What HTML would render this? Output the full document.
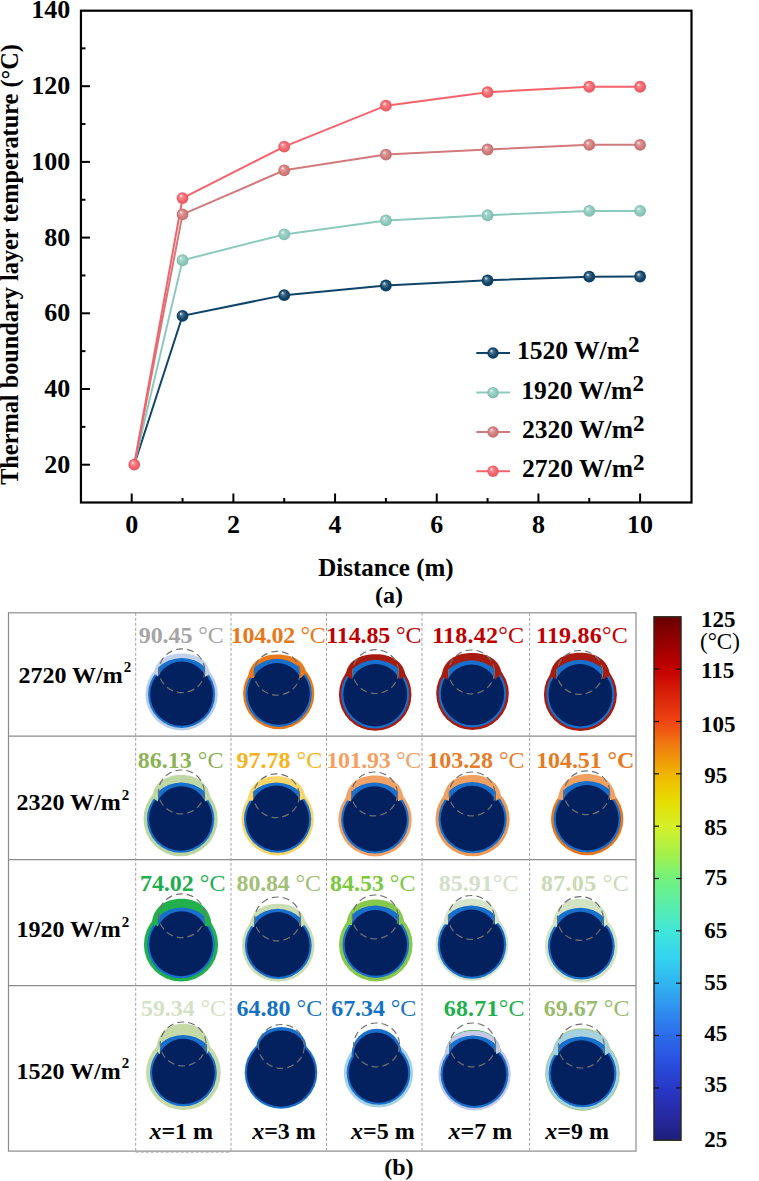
<!DOCTYPE html><html><head><meta charset="utf-8"><style>html,body{margin:0;padding:0;background:#fff;}body{width:759px;height:1181px;position:relative;overflow:hidden;}</style></head><body><svg width="759" height="1181" viewBox="0 0 759 1181" style="position:absolute;left:0;top:0">
<defs>
<radialGradient id="g1520" cx="0.5" cy="0.5" r="0.5" fx="0.34" fy="0.3"><stop offset="0" stop-color="#e7ecef"/><stop offset="0.3" stop-color="#4b728d"/><stop offset="0.7" stop-color="#0f4468"/><stop offset="1" stop-color="#0d3e5f"/></radialGradient>
<radialGradient id="g1920" cx="0.5" cy="0.5" r="0.5" fx="0.34" fy="0.3"><stop offset="0" stop-color="#f3f9f8"/><stop offset="0.3" stop-color="#a8d7cd"/><stop offset="0.7" stop-color="#8ccabd"/><stop offset="1" stop-color="#80b9ad"/></radialGradient>
<radialGradient id="g2320" cx="0.5" cy="0.5" r="0.5" fx="0.34" fy="0.3"><stop offset="0" stop-color="#faf1f1"/><stop offset="0.3" stop-color="#dd9b9c"/><stop offset="0.7" stop-color="#d27a7b"/><stop offset="1" stop-color="#c17071"/></radialGradient>
<radialGradient id="g2720" cx="0.5" cy="0.5" r="0.5" fx="0.34" fy="0.3"><stop offset="0" stop-color="#fdeff0"/><stop offset="0.3" stop-color="#f68a90"/><stop offset="0.7" stop-color="#f4636b"/><stop offset="1" stop-color="#e05b62"/></radialGradient>
</defs>
<rect width="759" height="1181" fill="#fff"/>
<rect x="80.95" y="10.7" width="610.55" height="491.8" fill="none" stroke="#000" stroke-width="2.2"/>
<line x1="80.95" y1="464.70" x2="89.95" y2="464.70" stroke="#000" stroke-width="2"/>
<text x="70.2" y="472.60" text-anchor="end" font-family='"Liberation Serif", serif' font-weight="bold" font-size="26">20</text>
<line x1="80.95" y1="389.00" x2="89.95" y2="389.00" stroke="#000" stroke-width="2"/>
<text x="70.2" y="396.90" text-anchor="end" font-family='"Liberation Serif", serif' font-weight="bold" font-size="26">40</text>
<line x1="80.95" y1="313.30" x2="89.95" y2="313.30" stroke="#000" stroke-width="2"/>
<text x="70.2" y="321.20" text-anchor="end" font-family='"Liberation Serif", serif' font-weight="bold" font-size="26">60</text>
<line x1="80.95" y1="237.60" x2="89.95" y2="237.60" stroke="#000" stroke-width="2"/>
<text x="70.2" y="245.50" text-anchor="end" font-family='"Liberation Serif", serif' font-weight="bold" font-size="26">80</text>
<line x1="80.95" y1="161.90" x2="89.95" y2="161.90" stroke="#000" stroke-width="2"/>
<text x="70.2" y="169.80" text-anchor="end" font-family='"Liberation Serif", serif' font-weight="bold" font-size="26">100</text>
<line x1="80.95" y1="86.20" x2="89.95" y2="86.20" stroke="#000" stroke-width="2"/>
<text x="70.2" y="94.10" text-anchor="end" font-family='"Liberation Serif", serif' font-weight="bold" font-size="26">120</text>
<text x="70.2" y="18.40" text-anchor="end" font-family='"Liberation Serif", serif' font-weight="bold" font-size="26">140</text>
<line x1="80.95" y1="426.85" x2="85.45" y2="426.85" stroke="#000" stroke-width="2"/>
<line x1="80.95" y1="351.15" x2="85.45" y2="351.15" stroke="#000" stroke-width="2"/>
<line x1="80.95" y1="275.45" x2="85.45" y2="275.45" stroke="#000" stroke-width="2"/>
<line x1="80.95" y1="199.75" x2="85.45" y2="199.75" stroke="#000" stroke-width="2"/>
<line x1="80.95" y1="124.05" x2="85.45" y2="124.05" stroke="#000" stroke-width="2"/>
<line x1="80.95" y1="48.35" x2="85.45" y2="48.35" stroke="#000" stroke-width="2"/>
<line x1="131.70" y1="502.5" x2="131.70" y2="493.5" stroke="#000" stroke-width="2"/>
<text x="131.70" y="533.2" text-anchor="middle" font-family='"Liberation Serif", serif' font-weight="bold" font-size="26">0</text>
<line x1="233.38" y1="502.5" x2="233.38" y2="493.5" stroke="#000" stroke-width="2"/>
<text x="233.38" y="533.2" text-anchor="middle" font-family='"Liberation Serif", serif' font-weight="bold" font-size="26">2</text>
<line x1="335.06" y1="502.5" x2="335.06" y2="493.5" stroke="#000" stroke-width="2"/>
<text x="335.06" y="533.2" text-anchor="middle" font-family='"Liberation Serif", serif' font-weight="bold" font-size="26">4</text>
<line x1="436.74" y1="502.5" x2="436.74" y2="493.5" stroke="#000" stroke-width="2"/>
<text x="436.74" y="533.2" text-anchor="middle" font-family='"Liberation Serif", serif' font-weight="bold" font-size="26">6</text>
<line x1="538.42" y1="502.5" x2="538.42" y2="493.5" stroke="#000" stroke-width="2"/>
<text x="538.42" y="533.2" text-anchor="middle" font-family='"Liberation Serif", serif' font-weight="bold" font-size="26">8</text>
<line x1="640.10" y1="502.5" x2="640.10" y2="493.5" stroke="#000" stroke-width="2"/>
<text x="640.10" y="533.2" text-anchor="middle" font-family='"Liberation Serif", serif' font-weight="bold" font-size="26">10</text>
<line x1="182.54" y1="502.5" x2="182.54" y2="498.0" stroke="#000" stroke-width="2"/>
<line x1="284.22" y1="502.5" x2="284.22" y2="498.0" stroke="#000" stroke-width="2"/>
<line x1="385.90" y1="502.5" x2="385.90" y2="498.0" stroke="#000" stroke-width="2"/>
<line x1="487.58" y1="502.5" x2="487.58" y2="498.0" stroke="#000" stroke-width="2"/>
<line x1="589.26" y1="502.5" x2="589.26" y2="498.0" stroke="#000" stroke-width="2"/>
<text x="386" y="576" text-anchor="middle" font-family='"Liberation Serif", serif' font-weight="bold" font-size="25">Distance (m)</text>
<text x="389" y="603" text-anchor="middle" font-family='"Liberation Serif", serif' font-weight="bold" font-size="24">(a)</text>
<text transform="translate(18.3,264.5) rotate(-90)" text-anchor="middle" font-family='"Liberation Serif", serif' font-weight="bold" font-size="24.3">Thermal boundary layer temperature (°C)</text>
<polyline points="134.24,464.70 182.54,315.80 284.22,295.13 385.90,285.52 487.58,280.33 589.26,276.70 640.10,276.51" fill="none" stroke="#0f4468" stroke-width="2"/>
<polyline points="134.24,464.70 182.54,260.23 284.22,234.42 385.90,220.45 487.58,215.23 589.26,210.92 640.10,210.92" fill="none" stroke="#8ccabd" stroke-width="2"/>
<polyline points="134.24,464.70 182.54,214.40 284.22,170.30 385.90,154.59 487.58,149.49 589.26,144.83 640.10,144.83" fill="none" stroke="#d27a7b" stroke-width="2"/>
<polyline points="134.24,464.70 182.54,198.05 284.22,146.68 385.90,105.69 487.58,92.18 589.26,86.73 640.10,86.73" fill="none" stroke="#f4636b" stroke-width="2"/>
<circle cx="182.54" cy="315.80" r="5.9" fill="url(#g1520)"/>
<circle cx="284.22" cy="295.13" r="5.9" fill="url(#g1520)"/>
<circle cx="385.90" cy="285.52" r="5.9" fill="url(#g1520)"/>
<circle cx="487.58" cy="280.33" r="5.9" fill="url(#g1520)"/>
<circle cx="589.26" cy="276.70" r="5.9" fill="url(#g1520)"/>
<circle cx="640.10" cy="276.51" r="5.9" fill="url(#g1520)"/>
<circle cx="182.54" cy="260.23" r="5.9" fill="url(#g1920)"/>
<circle cx="284.22" cy="234.42" r="5.9" fill="url(#g1920)"/>
<circle cx="385.90" cy="220.45" r="5.9" fill="url(#g1920)"/>
<circle cx="487.58" cy="215.23" r="5.9" fill="url(#g1920)"/>
<circle cx="589.26" cy="210.92" r="5.9" fill="url(#g1920)"/>
<circle cx="640.10" cy="210.92" r="5.9" fill="url(#g1920)"/>
<circle cx="182.54" cy="214.40" r="5.9" fill="url(#g2320)"/>
<circle cx="284.22" cy="170.30" r="5.9" fill="url(#g2320)"/>
<circle cx="385.90" cy="154.59" r="5.9" fill="url(#g2320)"/>
<circle cx="487.58" cy="149.49" r="5.9" fill="url(#g2320)"/>
<circle cx="589.26" cy="144.83" r="5.9" fill="url(#g2320)"/>
<circle cx="640.10" cy="144.83" r="5.9" fill="url(#g2320)"/>
<circle cx="134.24" cy="464.70" r="5.9" fill="url(#g2720)"/>
<circle cx="182.54" cy="198.05" r="5.9" fill="url(#g2720)"/>
<circle cx="284.22" cy="146.68" r="5.9" fill="url(#g2720)"/>
<circle cx="385.90" cy="105.69" r="5.9" fill="url(#g2720)"/>
<circle cx="487.58" cy="92.18" r="5.9" fill="url(#g2720)"/>
<circle cx="589.26" cy="86.73" r="5.9" fill="url(#g2720)"/>
<circle cx="640.10" cy="86.73" r="5.9" fill="url(#g2720)"/>
<line x1="476.3" y1="353" x2="510" y2="353" stroke="#0f4468" stroke-width="2"/>
<circle cx="493" cy="353" r="5.7" fill="url(#g1520)"/>
<text x="516.9" y="359.4" font-family='"Liberation Serif", serif' font-weight="bold" font-size="25.6">1520 W/m<tspan font-size="23" dy="-7.4">2</tspan></text>
<line x1="476.3" y1="392.6" x2="510" y2="392.6" stroke="#8ccabd" stroke-width="2"/>
<circle cx="493" cy="392.6" r="5.7" fill="url(#g1920)"/>
<text x="521.3" y="398.6" font-family='"Liberation Serif", serif' font-weight="bold" font-size="25.6">1920 W/m<tspan font-size="23" dy="-7.4">2</tspan></text>
<line x1="476.3" y1="432.0" x2="510" y2="432.0" stroke="#d27a7b" stroke-width="2"/>
<circle cx="493" cy="432.0" r="5.7" fill="url(#g2320)"/>
<text x="521.9" y="437.9" font-family='"Liberation Serif", serif' font-weight="bold" font-size="25.6">2320 W/m<tspan font-size="23" dy="-7.4">2</tspan></text>
<line x1="476.3" y1="471.2" x2="510" y2="471.2" stroke="#f4636b" stroke-width="2"/>
<circle cx="493" cy="471.2" r="5.7" fill="url(#g2720)"/>
<text x="521.9" y="477.0" font-family='"Liberation Serif", serif' font-weight="bold" font-size="25.6">2720 W/m<tspan font-size="23" dy="-7.4">2</tspan></text>
<rect x="8.5" y="612.8" width="627.5" height="538.3" fill="none" stroke="#8c8c8c" stroke-width="1.2"/>
<line x1="8.5" y1="736.2" x2="636.0" y2="736.2" stroke="#8c8c8c" stroke-width="1.2"/>
<line x1="8.5" y1="859.7" x2="636.0" y2="859.7" stroke="#8c8c8c" stroke-width="1.2"/>
<line x1="8.5" y1="985.7" x2="636.0" y2="985.7" stroke="#8c8c8c" stroke-width="1.2"/>
<line x1="135.7" y1="612.8" x2="135.7" y2="1151.1" stroke="#a0a0a0" stroke-width="1" stroke-dasharray="3,2"/>
<line x1="231.0" y1="612.8" x2="231.0" y2="1151.1" stroke="#a0a0a0" stroke-width="1" stroke-dasharray="3,2"/>
<line x1="326.5" y1="612.8" x2="326.5" y2="1151.1" stroke="#a0a0a0" stroke-width="1" stroke-dasharray="3,2"/>
<line x1="422.0" y1="612.8" x2="422.0" y2="1151.1" stroke="#a0a0a0" stroke-width="1" stroke-dasharray="3,2"/>
<line x1="529.6" y1="612.8" x2="529.6" y2="1151.1" stroke="#a0a0a0" stroke-width="1" stroke-dasharray="3,2"/>
<line x1="135.7" y1="1152.1" x2="231.0" y2="1152.1" stroke="#a0a0a0" stroke-width="1" stroke-dasharray="3,2"/>
<text x="18.4" y="682.7" font-family='"Liberation Serif", serif' font-weight="bold" font-size="24">2720 W/m<tspan font-size="15" dx="1" dy="-10.6">2</tspan></text>
<text x="16.4" y="810.4" font-family='"Liberation Serif", serif' font-weight="bold" font-size="24">2320 W/m<tspan font-size="15" dx="1" dy="-10.6">2</tspan></text>
<text x="16.4" y="937.2" font-family='"Liberation Serif", serif' font-weight="bold" font-size="24">1920 W/m<tspan font-size="15" dx="1" dy="-10.6">2</tspan></text>
<text x="16.4" y="1078.7" font-family='"Liberation Serif", serif' font-weight="bold" font-size="24">1520 W/m<tspan font-size="15" dx="1" dy="-10.6">2</tspan></text>
<text x="138.8" y="643.1" textLength="84.9" lengthAdjust="spacing" font-family='"Liberation Serif", serif' font-size="24" fill="#a5a5a5"><tspan font-weight="bold">90.45</tspan><tspan> °C</tspan></text>
<circle cx="181.6" cy="694.4" r="36.1" fill="#bccde6"/>
<circle cx="181.6" cy="694.4" r="33.5" fill="#1870cc"/>
<circle cx="181.6" cy="694.4" r="31.4" fill="#03215f"/>
<path d="M153.90,673.05 C155.40,660.34 166.50,653.50 181.90,653.50 C197.30,653.50 208.40,660.60 209.90,673.79 L205.90,676.40 L157.90,676.40 Z" fill="#c3d2ea"/>
<clipPath id="c0"><rect x="158" y="647" width="47" height="41"/></clipPath>
<g clip-path="url(#c0)">
<circle cx="181.9" cy="692.00" r="34" fill="#1870cc"/>
<circle cx="181.9" cy="687.40" r="26.0" fill="#03215f"/>
</g>
<ellipse cx="181.9" cy="670.6999999999999" rx="22.9" ry="21.9" fill="none" stroke="#707070" stroke-width="1.2" stroke-dasharray="7,4"/>
<text x="230.8" y="643.1" textLength="95.0" lengthAdjust="spacing" font-family='"Liberation Serif", serif' font-size="24" fill="#e87818"><tspan font-weight="bold">104.02</tspan><tspan> °C</tspan></text>
<circle cx="278.7" cy="693.7" r="35.6" fill="#e8781a"/>
<circle cx="278.7" cy="693.7" r="33.2" fill="#1870cc"/>
<circle cx="278.7" cy="693.7" r="31.1" fill="#03215f"/>
<path d="M248.00,677.48 C249.50,662.48 261.05,654.40 277.00,654.40 C292.95,654.40 304.50,660.79 306.00,672.65 L301.00,678.00 L253.00,678.00 Z" fill="#ea7a1a"/>
<clipPath id="c1"><rect x="254" y="649" width="46" height="40"/></clipPath>
<g clip-path="url(#c1)">
<circle cx="277.0" cy="692.80" r="34" fill="#1870cc"/>
<circle cx="277.0" cy="689.00" r="26.0" fill="#03215f"/>
</g>
<ellipse cx="277.0" cy="673.1999999999999" rx="22.9" ry="21.9" fill="none" stroke="#707070" stroke-width="1.2" stroke-dasharray="7,4"/>
<text x="326.3" y="643.1" textLength="95.3" lengthAdjust="spacing" font-family='"Liberation Serif", serif' font-size="24" fill="#c00000"><tspan font-weight="bold">114.85</tspan><tspan> °C</tspan></text>
<circle cx="375.2" cy="694.5" r="36.3" fill="#a81c10"/>
<circle cx="375.2" cy="694.5" r="34.0" fill="#1870cc"/>
<circle cx="375.2" cy="694.5" r="31.9" fill="#03215f"/>
<path d="M345.60,675.29 C347.10,661.65 359.10,654.30 375.60,654.30 C392.10,654.30 404.10,662.06 405.60,676.46 L399.60,679.00 L351.60,679.00 Z" fill="#a81c10"/>
<clipPath id="c2"><rect x="352" y="648" width="47" height="42"/></clipPath>
<g clip-path="url(#c2)">
<circle cx="375.6" cy="693.80" r="34" fill="#1870cc"/>
<circle cx="375.6" cy="690.00" r="26.0" fill="#03215f"/>
</g>
<ellipse cx="375.6" cy="671.6" rx="22.9" ry="21.9" fill="none" stroke="#707070" stroke-width="1.2" stroke-dasharray="7,4"/>
<text x="432.2" y="643.1" textLength="91.8" lengthAdjust="spacing" font-family='"Liberation Serif", serif' font-size="24" fill="#c00000"><tspan font-weight="bold">118.42</tspan><tspan>°C</tspan></text>
<circle cx="472.5" cy="693.6" r="36.3" fill="#a81c10"/>
<circle cx="472.5" cy="693.6" r="33.8" fill="#1870cc"/>
<circle cx="472.5" cy="693.6" r="31.699999999999996" fill="#03215f"/>
<path d="M441.50,676.51 C443.00,661.29 455.00,653.10 471.50,653.10 C488.00,653.10 500.00,660.26 501.50,673.57 L495.50,679.50 L447.50,679.50 Z" fill="#a81c10"/>
<clipPath id="c3"><rect x="448" y="648" width="47" height="42"/></clipPath>
<g clip-path="url(#c3)">
<circle cx="471.5" cy="694.30" r="34" fill="#1870cc"/>
<circle cx="471.5" cy="690.50" r="26.0" fill="#03215f"/>
</g>
<ellipse cx="471.5" cy="671.9" rx="22.9" ry="21.9" fill="none" stroke="#707070" stroke-width="1.2" stroke-dasharray="7,4"/>
<text x="536.0" y="643.1" textLength="91.8" lengthAdjust="spacing" font-family='"Liberation Serif", serif' font-size="24" fill="#c00000"><tspan font-weight="bold">119.86</tspan><tspan>°C</tspan></text>
<circle cx="580.4" cy="694.5" r="36.5" fill="#a81c10"/>
<circle cx="580.4" cy="694.5" r="34.0" fill="#1870cc"/>
<circle cx="580.4" cy="694.5" r="31.9" fill="#03215f"/>
<path d="M549.90,676.25 C551.40,661.01 563.40,652.80 579.90,652.80 C596.40,652.80 608.40,660.50 609.90,674.81 L603.90,679.00 L555.90,679.00 Z" fill="#a81c10"/>
<clipPath id="c4"><rect x="556" y="648" width="47" height="42"/></clipPath>
<g clip-path="url(#c4)">
<circle cx="579.9" cy="693.80" r="34" fill="#1870cc"/>
<circle cx="579.9" cy="690.00" r="26.0" fill="#03215f"/>
</g>
<ellipse cx="579.9" cy="672.4" rx="22.9" ry="21.9" fill="none" stroke="#707070" stroke-width="1.2" stroke-dasharray="7,4"/>
<text x="137.8" y="767.6" textLength="85.6" lengthAdjust="spacing" font-family='"Liberation Serif", serif' font-size="24" fill="#8cb256"><tspan font-weight="bold">86.13</tspan><tspan> °C</tspan></text>
<circle cx="180.6" cy="819.1" r="37.1" fill="#bcd6a2"/>
<circle cx="180.6" cy="819.1" r="33.7" fill="#1870cc"/>
<circle cx="180.6" cy="819.1" r="31.6" fill="#03215f"/>
<path d="M152.30,796.91 C153.80,782.67 165.35,775.00 181.30,775.00 C197.25,775.00 208.80,783.28 210.30,798.67 L205.30,801.30 L157.30,801.30 Z" fill="#c0d8a6"/>
<clipPath id="c5"><rect x="158" y="768" width="47" height="44"/></clipPath>
<g clip-path="url(#c5)">
<circle cx="181.3" cy="816.50" r="34" fill="#1870cc"/>
<circle cx="181.3" cy="812.30" r="26.0" fill="#03215f"/>
</g>
<ellipse cx="181.3" cy="791.9" rx="22.9" ry="21.9" fill="none" stroke="#707070" stroke-width="1.2" stroke-dasharray="7,4"/>
<text x="236.6" y="767.6" textLength="85.6" lengthAdjust="spacing" font-family='"Liberation Serif", serif' font-size="24" fill="#f5b41a"><tspan font-weight="bold">97.78</tspan><tspan> °C</tspan></text>
<circle cx="277.6" cy="819.2" r="36.2" fill="#f9d66a"/>
<circle cx="277.6" cy="819.2" r="33.6" fill="#1870cc"/>
<circle cx="277.6" cy="819.2" r="31.5" fill="#03215f"/>
<path d="M247.40,801.04 C248.90,784.96 260.45,776.30 276.40,776.30 C292.35,776.30 303.90,783.83 305.40,797.81 L300.40,800.50 L252.40,800.50 Z" fill="#f9d66a"/>
<clipPath id="c6"><rect x="253" y="772" width="47" height="40"/></clipPath>
<g clip-path="url(#c6)">
<circle cx="276.4" cy="816.50" r="34" fill="#1870cc"/>
<circle cx="276.4" cy="811.50" r="26.0" fill="#03215f"/>
</g>
<ellipse cx="276.4" cy="795.6999999999999" rx="22.9" ry="21.9" fill="none" stroke="#707070" stroke-width="1.2" stroke-dasharray="7,4"/>
<text x="326.4" y="767.6" textLength="94.8" lengthAdjust="spacing" font-family='"Liberation Serif", serif' font-size="24" fill="#f4a060"><tspan font-weight="bold">101.93</tspan><tspan> °C</tspan></text>
<circle cx="375.0" cy="819.7" r="36.7" fill="#f2a266"/>
<circle cx="375.0" cy="819.7" r="33.900000000000006" fill="#1870cc"/>
<circle cx="375.0" cy="819.7" r="31.800000000000004" fill="#03215f"/>
<path d="M345.50,799.67 C347.00,783.96 358.55,775.50 374.50,775.50 C390.45,775.50 402.00,783.51 403.50,798.38 L398.50,801.30 L350.50,801.30 Z" fill="#f2a266"/>
<clipPath id="c7"><rect x="351" y="770" width="47" height="42"/></clipPath>
<g clip-path="url(#c7)">
<circle cx="374.5" cy="816.50" r="34" fill="#1870cc"/>
<circle cx="374.5" cy="812.30" r="26.0" fill="#03215f"/>
</g>
<ellipse cx="374.5" cy="793.9" rx="22.9" ry="21.9" fill="none" stroke="#707070" stroke-width="1.2" stroke-dasharray="7,4"/>
<text x="427.3" y="767.6" textLength="97.2" lengthAdjust="spacing" font-family='"Liberation Serif", serif' font-size="24" fill="#e87c28"><tspan font-weight="bold">103.28</tspan><tspan> °C</tspan></text>
<circle cx="472.6" cy="819.2" r="37.1" fill="#ee9a56"/>
<circle cx="472.6" cy="819.2" r="34.1" fill="#1870cc"/>
<circle cx="472.6" cy="819.2" r="32.0" fill="#03215f"/>
<path d="M443.10,798.50 C444.60,783.23 456.15,775.00 472.10,775.00 C488.05,775.00 499.60,782.79 501.10,797.25 L496.10,800.80 L448.10,800.80 Z" fill="#f0a060"/>
<clipPath id="c8"><rect x="449" y="770" width="47" height="42"/></clipPath>
<g clip-path="url(#c8)">
<circle cx="472.1" cy="816.00" r="34" fill="#1870cc"/>
<circle cx="472.1" cy="811.80" r="26.0" fill="#03215f"/>
</g>
<ellipse cx="472.1" cy="793.9" rx="22.9" ry="21.9" fill="none" stroke="#707070" stroke-width="1.2" stroke-dasharray="7,4"/>
<text x="536.2" y="767.6" textLength="98.2" lengthAdjust="spacing" font-family='"Liberation Serif", serif' font-size="24" fill="#e87a1e"><tspan font-weight="bold">104.51</tspan><tspan font-weight="bold"> °C</tspan></text>
<circle cx="587.2" cy="819.0" r="36.2" fill="#e8781c"/>
<circle cx="587.2" cy="819.0" r="33.6" fill="#1870cc"/>
<circle cx="587.2" cy="819.0" r="31.5" fill="#03215f"/>
<path d="M557.90,799.54 C559.40,782.87 570.95,773.90 586.90,773.90 C602.85,773.90 614.40,782.59 615.90,798.74 L610.90,799.90 L562.90,799.90 Z" fill="#f0a060"/>
<clipPath id="c9"><rect x="563" y="769" width="47" height="42"/></clipPath>
<g clip-path="url(#c9)">
<circle cx="586.9" cy="815.00" r="34" fill="#1870cc"/>
<circle cx="586.9" cy="810.90" r="26.0" fill="#03215f"/>
</g>
<ellipse cx="586.9" cy="792.6999999999999" rx="22.9" ry="21.9" fill="none" stroke="#707070" stroke-width="1.2" stroke-dasharray="7,4"/>
<text x="139.9" y="891.1" textLength="85.5" lengthAdjust="spacing" font-family='"Liberation Serif", serif' font-size="24" fill="#1eae50"><tspan font-weight="bold">74.02</tspan><tspan> °C</tspan></text>
<circle cx="181.0" cy="944.5" r="37.1" fill="#22b04c"/>
<circle cx="181.0" cy="944.5" r="33.800000000000004" fill="#1870cc"/>
<circle cx="181.0" cy="944.5" r="31.700000000000003" fill="#03215f"/>
<path d="M151.70,923.54 C153.20,907.46 165.20,898.80 181.70,898.80 C198.20,898.80 210.20,908.13 211.70,925.47 L205.70,926.30 L157.70,926.30 Z" fill="#22b04c"/>
<clipPath id="c10"><rect x="158" y="892" width="47" height="46"/></clipPath>
<g clip-path="url(#c10)">
<circle cx="181.7" cy="941.50" r="34" fill="#1870cc"/>
<circle cx="181.7" cy="937.30" r="26.0" fill="#03215f"/>
</g>
<ellipse cx="181.7" cy="915.6999999999999" rx="22.9" ry="21.9" fill="none" stroke="#707070" stroke-width="1.2" stroke-dasharray="7,4"/>
<text x="236.6" y="891.1" textLength="84.3" lengthAdjust="spacing" font-family='"Liberation Serif", serif' font-size="24" fill="#a3c078"><tspan font-weight="bold">80.84</tspan><tspan> °C</tspan></text>
<circle cx="278.3" cy="945.6" r="36.2" fill="#cbddb2"/>
<circle cx="278.3" cy="945.6" r="33.400000000000006" fill="#1870cc"/>
<circle cx="278.3" cy="945.6" r="31.300000000000004" fill="#03215f"/>
<path d="M249.60,925.34 C251.10,911.34 262.20,903.80 277.60,903.80 C293.00,903.80 304.10,910.74 305.60,923.63 L301.60,927.00 L253.60,927.00 Z" fill="#cbddb2"/>
<clipPath id="c11"><rect x="254" y="895" width="47" height="43"/></clipPath>
<g clip-path="url(#c11)">
<circle cx="277.6" cy="942.80" r="34" fill="#1870cc"/>
<circle cx="277.6" cy="938.00" r="26.0" fill="#03215f"/>
</g>
<ellipse cx="277.6" cy="918.9" rx="22.9" ry="21.9" fill="none" stroke="#707070" stroke-width="1.2" stroke-dasharray="7,4"/>
<text x="330.1" y="891.1" textLength="85.3" lengthAdjust="spacing" font-family='"Liberation Serif", serif' font-size="24" fill="#7cc840"><tspan font-weight="bold">84.53</tspan><tspan> °C</tspan></text>
<circle cx="375.8" cy="944.6" r="36.8" fill="#88c84c"/>
<circle cx="375.8" cy="944.6" r="33.3" fill="#1870cc"/>
<circle cx="375.8" cy="944.6" r="31.199999999999996" fill="#03215f"/>
<path d="M346.30,924.40 C347.80,908.22 359.35,899.50 375.30,899.50 C391.25,899.50 402.80,907.77 404.30,923.12 L399.30,925.00 L351.30,925.00 Z" fill="#88c84c"/>
<clipPath id="c12"><rect x="352" y="893" width="47" height="43"/></clipPath>
<g clip-path="url(#c12)">
<circle cx="375.3" cy="939.50" r="34" fill="#1870cc"/>
<circle cx="375.3" cy="936.00" r="26.0" fill="#03215f"/>
</g>
<ellipse cx="375.3" cy="916.9" rx="22.9" ry="21.9" fill="none" stroke="#707070" stroke-width="1.2" stroke-dasharray="7,4"/>
<text x="438.8" y="891.1" textLength="79.6" lengthAdjust="spacing" font-family='"Liberation Serif", serif' font-size="24" fill="#d3e0c8"><tspan font-weight="bold">85.91</tspan><tspan>°C</tspan></text>
<circle cx="472.0" cy="944.6" r="36.4" fill="#d6e4cc"/>
<circle cx="472.0" cy="944.6" r="34.199999999999996" fill="#1870cc"/>
<circle cx="472.0" cy="944.6" r="32.099999999999994" fill="#03215f"/>
<path d="M443.30,924.01 C444.80,907.62 455.90,898.80 471.30,898.80 C486.70,898.80 497.80,907.03 499.30,922.32 L495.30,924.50 L447.30,924.50 Z" fill="#d6e4cc"/>
<clipPath id="c13"><rect x="448" y="894" width="47" height="42"/></clipPath>
<g clip-path="url(#c13)">
<circle cx="471.3" cy="939.50" r="34" fill="#1870cc"/>
<circle cx="471.3" cy="935.50" r="26.0" fill="#03215f"/>
</g>
<ellipse cx="471.3" cy="917.4" rx="22.9" ry="21.9" fill="none" stroke="#707070" stroke-width="1.2" stroke-dasharray="7,4"/>
<text x="540.9" y="891.1" textLength="87.8" lengthAdjust="spacing" font-family='"Liberation Serif", serif' font-size="24" fill="#c9dbb4"><tspan font-weight="bold">87.05</tspan><tspan> °C</tspan></text>
<circle cx="581.3" cy="946.2" r="36.4" fill="#d4e3c4"/>
<circle cx="581.3" cy="946.2" r="33.4" fill="#1870cc"/>
<circle cx="581.3" cy="946.2" r="31.299999999999997" fill="#03215f"/>
<path d="M552.30,926.00 C553.80,908.32 564.90,898.80 580.30,898.80 C595.70,898.80 606.80,907.48 608.30,923.59 L604.30,926.80 L556.30,926.80 Z" fill="#d4e3c4"/>
<clipPath id="c14"><rect x="557" y="895" width="47" height="43"/></clipPath>
<g clip-path="url(#c14)">
<circle cx="580.3" cy="941.70" r="34" fill="#1870cc"/>
<circle cx="580.3" cy="937.80" r="26.0" fill="#03215f"/>
</g>
<ellipse cx="580.3" cy="918.5" rx="22.9" ry="21.9" fill="none" stroke="#707070" stroke-width="1.2" stroke-dasharray="7,4"/>
<text x="141.0" y="1016.4" textLength="85.0" lengthAdjust="spacing" font-family='"Liberation Serif", serif' font-size="24" fill="#d3e2c4"><tspan font-weight="bold">59.34</tspan><tspan> °C</tspan></text>
<circle cx="183.4" cy="1072.8" r="37.4" fill="#c6daa8"/>
<circle cx="183.4" cy="1072.8" r="33.4" fill="#1870cc"/>
<circle cx="183.4" cy="1072.8" r="31.299999999999997" fill="#03215f"/>
<path d="M156.10,1049.04 C157.60,1032.63 168.25,1023.80 183.10,1023.80 C197.95,1023.80 208.60,1032.41 210.10,1048.41 L207.10,1053.80 L159.10,1053.80 Z" fill="#c6daa8"/>
<clipPath id="c15"><rect x="160" y="1020" width="47" height="45"/></clipPath>
<g clip-path="url(#c15)">
<circle cx="183.1" cy="1069.00" r="34" fill="#1870cc"/>
<circle cx="183.1" cy="1064.80" r="26.0" fill="#03215f"/>
</g>
<ellipse cx="183.1" cy="1043.9" rx="22.9" ry="21.9" fill="none" stroke="#707070" stroke-width="1.2" stroke-dasharray="7,4"/>
<text x="236.6" y="1016.4" textLength="85.6" lengthAdjust="spacing" font-family='"Liberation Serif", serif' font-size="24" fill="#1472c4"><tspan font-weight="bold">64.80</tspan><tspan> °C</tspan></text>
<ellipse cx="281.4" cy="1047.18" rx="25.0" ry="20.18" fill="#1870cc"/>
<circle cx="281.0" cy="1072.5" r="36.3" fill="#1870cc"/>
<circle cx="281.0" cy="1072.5" r="34.199999999999996" fill="#03215f"/>
<ellipse cx="281.4" cy="1048.19" rx="23.0" ry="17.69" fill="#03215f"/>
<ellipse cx="281.4" cy="1046.4" rx="22.9" ry="21.9" fill="none" stroke="#707070" stroke-width="1.2" stroke-dasharray="7,4"/>
<text x="331.3" y="1016.4" textLength="85.0" lengthAdjust="spacing" font-family='"Liberation Serif", serif' font-size="24" fill="#1472c4"><tspan font-weight="bold">67.34</tspan><tspan> °C</tspan></text>
<circle cx="378.5" cy="1073.0" r="34.6" fill="#a6d2e4"/>
<ellipse cx="376.6" cy="1054.35" rx="25.0" ry="25.55" fill="#1870cc"/>
<circle cx="378.5" cy="1073.0" r="31.8" fill="#1870cc"/>
<circle cx="378.5" cy="1073.0" r="29.7" fill="#03215f"/>
<ellipse cx="376.6" cy="1055.21" rx="23.0" ry="22.71" fill="#03215f"/>
<ellipse cx="376.6" cy="1044.9" rx="22.9" ry="21.9" fill="none" stroke="#707070" stroke-width="1.2" stroke-dasharray="7,4"/>
<text x="443.7" y="1016.4" textLength="80.8" lengthAdjust="spacing" font-family='"Liberation Serif", serif' font-size="24" fill="#22b04c"><tspan font-weight="bold">68.71</tspan><tspan>°C</tspan></text>
<circle cx="474.5" cy="1074.2" r="36.2" fill="#c6c8e8"/>
<circle cx="474.5" cy="1074.2" r="33.900000000000006" fill="#1870cc"/>
<circle cx="474.5" cy="1074.2" r="31.800000000000004" fill="#03215f"/>
<path d="M444.80,1055.30 C446.30,1038.86 457.40,1030.00 472.80,1030.00 C488.20,1030.00 499.30,1037.39 500.80,1051.13 L496.80,1053.80 L448.80,1053.80 Z" fill="#3cb44c"/>
<path d="M444.80,1055.30 C446.30,1039.38 457.40,1030.80 472.80,1030.80 C488.20,1030.80 499.30,1037.91 500.80,1051.13 L496.80,1053.80 L448.80,1053.80 Z" fill="#c6c8e8"/>
<clipPath id="c18"><rect x="449" y="1021" width="47" height="44"/></clipPath>
<g clip-path="url(#c18)">
<circle cx="472.8" cy="1069.50" r="34" fill="#1870cc"/>
<circle cx="472.8" cy="1064.80" r="26.0" fill="#03215f"/>
</g>
<ellipse cx="472.8" cy="1044.9" rx="22.9" ry="21.9" fill="none" stroke="#707070" stroke-width="1.2" stroke-dasharray="7,4"/>
<text x="543.7" y="1016.4" textLength="85.8" lengthAdjust="spacing" font-family='"Liberation Serif", serif' font-size="24" fill="#98bc6c"><tspan font-weight="bold">69.67</tspan><tspan> °C</tspan></text>
<circle cx="582.5" cy="1073.4" r="37.300000000000004" fill="#9cc060"/>
<circle cx="582.5" cy="1073.4" r="36.7" fill="#a6d2e0"/>
<circle cx="582.5" cy="1073.4" r="33.900000000000006" fill="#1870cc"/>
<circle cx="582.5" cy="1073.4" r="31.800000000000004" fill="#03215f"/>
<path d="M552.30,1054.35 C553.80,1037.48 565.35,1028.40 581.30,1028.40 C597.25,1028.40 608.80,1036.39 610.30,1051.24 L605.30,1055.20 L557.30,1055.20 Z" fill="#9cc060"/>
<path d="M552.30,1054.35 C553.80,1038.00 565.35,1029.20 581.30,1029.20 C597.25,1029.20 608.80,1036.91 610.30,1051.24 L605.30,1055.20 L557.30,1055.20 Z" fill="#a6d2e0"/>
<clipPath id="c19"><rect x="558" y="1022" width="47" height="44"/></clipPath>
<g clip-path="url(#c19)">
<circle cx="581.3" cy="1070.40" r="34" fill="#1870cc"/>
<circle cx="581.3" cy="1066.20" r="26.0" fill="#03215f"/>
</g>
<ellipse cx="581.3" cy="1046.1000000000001" rx="22.9" ry="21.9" fill="none" stroke="#707070" stroke-width="1.2" stroke-dasharray="7,4"/>
<text x="149.4" y="1138.8" font-family='"Liberation Serif", serif' font-weight="bold" font-size="24"><tspan font-style="italic">x</tspan>=1 m</text>
<text x="252.2" y="1138.8" font-family='"Liberation Serif", serif' font-weight="bold" font-size="24"><tspan font-style="italic">x</tspan>=3 m</text>
<text x="351.0" y="1138.8" font-family='"Liberation Serif", serif' font-weight="bold" font-size="24"><tspan font-style="italic">x</tspan>=5 m</text>
<text x="448.5" y="1138.8" font-family='"Liberation Serif", serif' font-weight="bold" font-size="24"><tspan font-style="italic">x</tspan>=7 m</text>
<text x="545.3" y="1138.8" font-family='"Liberation Serif", serif' font-weight="bold" font-size="24"><tspan font-style="italic">x</tspan>=9 m</text>
<text x="398.9" y="1174.6" text-anchor="middle" font-family='"Liberation Serif", serif' font-weight="bold" font-size="24">(b)</text>
<defs><linearGradient id="cb" x1="0" y1="0" x2="0" y2="1"><stop offset="0" stop-color="#6a0000"/><stop offset="0.1" stop-color="#c40000"/><stop offset="0.2" stop-color="#f04412"/><stop offset="0.25" stop-color="#f08010"/><stop offset="0.3" stop-color="#f0b400"/><stop offset="0.35" stop-color="#e8dc00"/><stop offset="0.4" stop-color="#d4f028"/><stop offset="0.45" stop-color="#a8f048"/><stop offset="0.5" stop-color="#72f27c"/><stop offset="0.55" stop-color="#5aeeaa"/><stop offset="0.6" stop-color="#40e6d8"/><stop offset="0.65" stop-color="#34d4f0"/><stop offset="0.7" stop-color="#30b4f0"/><stop offset="0.75" stop-color="#3090f0"/><stop offset="0.8" stop-color="#2c6cec"/><stop offset="0.85" stop-color="#2a50e0"/><stop offset="0.9" stop-color="#2838c8"/><stop offset="0.95" stop-color="#262aa4"/><stop offset="1" stop-color="#1e1e7c"/></linearGradient></defs>
<rect x="654" y="616.8" width="27" height="523.4000000000001" fill="url(#cb)" stroke="#2e2a22" stroke-width="1.5"/>
<text x="701.0" y="626.7" font-family='"Liberation Serif", serif' font-weight="bold" font-size="23">125</text>
<line x1="654" y1="669.1" x2="659" y2="669.1" stroke="#111" stroke-width="1.2"/>
<line x1="676" y1="669.1" x2="681" y2="669.1" stroke="#111" stroke-width="1.2"/>
<text x="701.0" y="677.9" font-family='"Liberation Serif", serif' font-weight="bold" font-size="23">115</text>
<line x1="654" y1="721.5" x2="659" y2="721.5" stroke="#111" stroke-width="1.2"/>
<line x1="676" y1="721.5" x2="681" y2="721.5" stroke="#111" stroke-width="1.2"/>
<text x="701.0" y="731.5" font-family='"Liberation Serif", serif' font-weight="bold" font-size="23">105</text>
<line x1="654" y1="773.8" x2="659" y2="773.8" stroke="#111" stroke-width="1.2"/>
<line x1="676" y1="773.8" x2="681" y2="773.8" stroke="#111" stroke-width="1.2"/>
<text x="704.3" y="782.9" font-family='"Liberation Serif", serif' font-weight="bold" font-size="23">95</text>
<line x1="654" y1="826.2" x2="659" y2="826.2" stroke="#111" stroke-width="1.2"/>
<line x1="676" y1="826.2" x2="681" y2="826.2" stroke="#111" stroke-width="1.2"/>
<text x="704.3" y="835.2" font-family='"Liberation Serif", serif' font-weight="bold" font-size="23">85</text>
<line x1="654" y1="878.5" x2="659" y2="878.5" stroke="#111" stroke-width="1.2"/>
<line x1="676" y1="878.5" x2="681" y2="878.5" stroke="#111" stroke-width="1.2"/>
<text x="704.3" y="884.9" font-family='"Liberation Serif", serif' font-weight="bold" font-size="23">75</text>
<line x1="654" y1="930.8" x2="659" y2="930.8" stroke="#111" stroke-width="1.2"/>
<line x1="676" y1="930.8" x2="681" y2="930.8" stroke="#111" stroke-width="1.2"/>
<text x="704.3" y="937.6" font-family='"Liberation Serif", serif' font-weight="bold" font-size="23">65</text>
<line x1="654" y1="983.2" x2="659" y2="983.2" stroke="#111" stroke-width="1.2"/>
<line x1="676" y1="983.2" x2="681" y2="983.2" stroke="#111" stroke-width="1.2"/>
<text x="704.3" y="989.6" font-family='"Liberation Serif", serif' font-weight="bold" font-size="23">55</text>
<line x1="654" y1="1035.5" x2="659" y2="1035.5" stroke="#111" stroke-width="1.2"/>
<line x1="676" y1="1035.5" x2="681" y2="1035.5" stroke="#111" stroke-width="1.2"/>
<text x="704.3" y="1041.3" font-family='"Liberation Serif", serif' font-weight="bold" font-size="23">45</text>
<line x1="654" y1="1087.9" x2="659" y2="1087.9" stroke="#111" stroke-width="1.2"/>
<line x1="676" y1="1087.9" x2="681" y2="1087.9" stroke="#111" stroke-width="1.2"/>
<text x="704.3" y="1091.6" font-family='"Liberation Serif", serif' font-weight="bold" font-size="23">35</text>
<text x="704.3" y="1146.6" font-family='"Liberation Serif", serif' font-weight="bold" font-size="23">25</text>
<text x="700" y="648.5" font-family='"Liberation Serif", serif' font-size="23">(°C)</text>
</svg></body></html>
